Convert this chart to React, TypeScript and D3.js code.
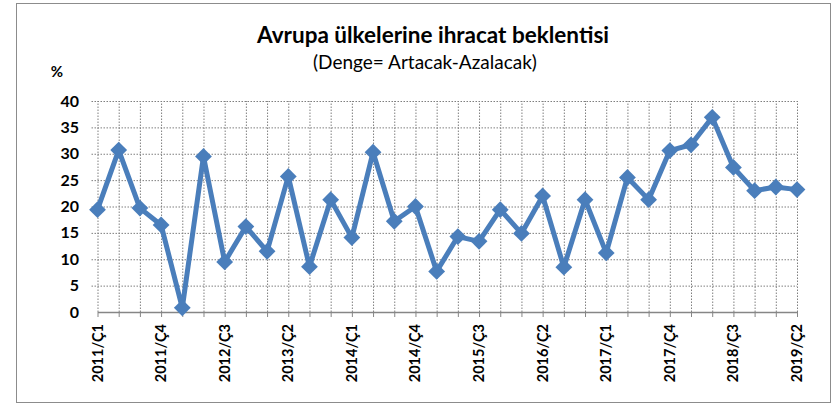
import * as d3 from 'd3';
import React, { useEffect, useRef } from 'react';

const quarters = [
  '2011/Ç1', '2011/Ç2', '2011/Ç3', '2011/Ç4',
  '2012/Ç1', '2012/Ç2', '2012/Ç3', '2012/Ç4',
  '2013/Ç1', '2013/Ç2', '2013/Ç3', '2013/Ç4',
  '2014/Ç1', '2014/Ç2', '2014/Ç3', '2014/Ç4',
  '2015/Ç1', '2015/Ç2', '2015/Ç3', '2015/Ç4',
  '2016/Ç1', '2016/Ç2', '2016/Ç3', '2016/Ç4',
  '2017/Ç1', '2017/Ç2', '2017/Ç3', '2017/Ç4',
  '2018/Ç1', '2018/Ç2', '2018/Ç3', '2018/Ç4',
  '2019/Ç1', '2019/Ç2',
];

const balance = [
  19.4, 30.7, 19.7, 16.5, 0.8, 29.5, 9.5, 16.2, 11.5, 25.7, 8.6, 21.3,
  14.1, 30.3, 17.2, 20.0, 7.7, 14.3, 13.4, 19.4, 14.9, 22.0, 8.5, 21.3,
  11.2, 25.5, 21.3, 30.6, 31.7, 36.9, 27.4, 23.0, 23.7, 23.2,
];

const labeledQuarters = [
  '2011/Ç1', '2011/Ç4', '2012/Ç3', '2013/Ç2', '2014/Ç1', '2014/Ç4',
  '2015/Ç3', '2016/Ç2', '2017/Ç1', '2017/Ç4', '2018/Ç3', '2019/Ç2',
];

const yTicks = [0, 5, 10, 15, 20, 25, 30, 35, 40];

const W = 840;
const H = 408;
const FONT = 'Lato, "Open Sans", sans-serif';
const BLUE = '#4a7ebb';
const GRID = '#7f7f7f';

export default function App() {
  const svgRef = useRef<SVGSVGElement | null>(null);

  useEffect(() => {
    if (!svgRef.current) return;
    const svg = d3.select(svgRef.current);
    svg.selectAll('*').remove();

    const x = d3.scalePoint<string>().domain(quarters).range([97.5, 797]);
    const y = d3.scaleLinear().domain([0, 40]).range([312, 101]);

    // chart border
    svg.append('rect')
      .attr('x', 16.5).attr('y', 3.5)
      .attr('width', 814).attr('height', 399)
      .attr('fill', '#fff')
      .attr('stroke', '#8c8c8c')
      .attr('stroke-width', 1);

    // titles
    svg.append('text')
      .attr('x', 433).attr('y', 43)
      .attr('text-anchor', 'middle')
      .style('font-family', FONT).style('font-weight', 700).style('font-size', '22.5px')
      .attr('fill', '#000')
      .text('Avrupa ülkelerine ihracat beklentisi');
    svg.append('text')
      .attr('x', 425).attr('y', 69)
      .attr('text-anchor', 'middle')
      .style('font-family', FONT).style('font-size', '19px')
      .attr('fill', '#000')
      .text('(Denge= Artacak-Azalacak)');
    svg.append('text')
      .attr('x', 57).attr('y', 77)
      .attr('text-anchor', 'middle')
      .style('font-family', FONT).style('font-weight', 700).style('font-size', '15px')
      .attr('fill', '#000')
      .text('%');

    // horizontal grid
    svg.append('g')
      .attr('transform', `translate(${x(quarters[0])},0)`)
      .call(d3.axisLeft(y).tickValues(yTicks.filter((d) => d > 0))
        .tickSize(-(x(quarters[quarters.length - 1])! - x(quarters[0])!) - 6)
        .tickFormat(() => ''))
      .call((g) => g.select('.domain').remove())
      .call((g) => g.selectAll('.tick line')
        .attr('transform', 'translate(-6,0)')
        .attr('stroke', GRID).attr('stroke-dasharray', '1.5,1.5'));

    // vertical grid
    svg.append('g')
      .attr('transform', `translate(0,${y(0)})`)
      .call(d3.axisBottom(x).tickSize(-(y(0) - y(40))).tickFormat(() => ''))
      .call((g) => g.select('.domain').remove())
      .call((g) => g.selectAll('.tick line')
        .attr('stroke', GRID).attr('stroke-dasharray', '1.5,1.5'));

    // x axis with outside ticks
    svg.append('g')
      .attr('transform', `translate(0,${y(0)})`)
      .call(d3.axisBottom(x).tickSize(5).tickSizeOuter(0).tickFormat(() => ''))
      .call((g) => g.select('.domain').attr('stroke', '#868686').attr('stroke-width', 1.5))
      .call((g) => g.selectAll('.tick line').attr('stroke', '#868686'));

    // x labels
    svg.append('g')
      .selectAll('text')
      .data(labeledQuarters)
      .join('text')
      .attr('transform', (d) => `translate(${x(d)! + 5},${y(0) + 12}) rotate(-90)`)
      .attr('text-anchor', 'end')
      .style('font-family', FONT).style('font-weight', 700).style('font-size', '14.5px')
      .attr('fill', '#000')
      .text((d) => d);

    // y labels
    svg.append('g')
      .selectAll('text')
      .data(yTicks)
      .join('text')
      .attr('x', 79)
      .attr('y', (d) => y(d))
      .attr('dy', '0.35em')
      .attr('text-anchor', 'end')
      .style('font-family', FONT).style('font-weight', 700).style('font-size', '16px')
      .attr('fill', '#000')
      .text((d) => String(d));

    // line
    const line = d3.line<number>()
      .x((_, i) => x(quarters[i])!)
      .y((d) => y(d));
    svg.append('path')
      .datum(balance)
      .attr('d', line)
      .attr('fill', 'none')
      .attr('stroke', BLUE)
      .attr('stroke-width', 5)
      .attr('stroke-linejoin', 'round');

    // diamond markers
    const diamond = d3.symbol().type(d3.symbolDiamond2).size(180);
    svg.append('g')
      .selectAll('path')
      .data(balance)
      .join('path')
      .attr('transform', (d, i) => `translate(${x(quarters[i])},${y(d)})`)
      .attr('d', diamond)
      .attr('fill', BLUE);
  }, []);

  return (
    <svg
      ref={svgRef}
      width={W}
      height={H}
      style={{ position: 'absolute', left: 0, top: 0, background: '#fff' }}
    />
  );
}
